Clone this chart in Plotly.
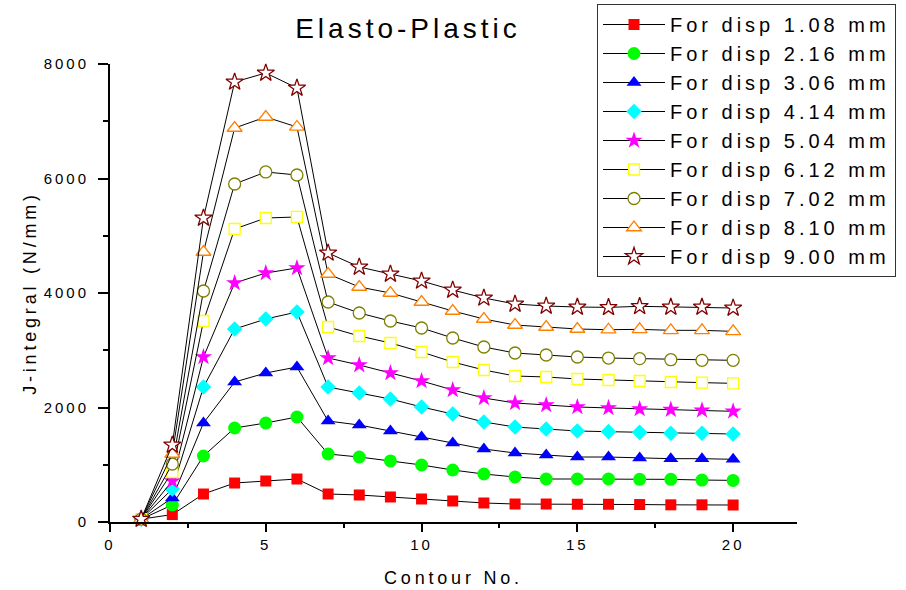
import plotly.graph_objects as go

contour = list(range(1, 21))

series_names = ["For disp 1.08 mm", "For disp 2.16 mm", "For disp 3.06 mm",
                "For disp 4.14 mm", "For disp 5.04 mm", "For disp 6.12 mm",
                "For disp 7.02 mm", "For disp 8.10 mm", "For disp 9.00 mm"]

j_108 = [50, 130, 489, 681, 716, 751, 489, 472, 437, 402, 367, 332, 314, 314, 310, 310, 305, 300, 300, 297]
j_216 = [50, 297, 1153, 1642, 1729, 1834, 1188, 1135, 1066, 996, 908, 838, 786, 751, 751, 751, 745, 745, 733, 727]
j_306 = [50, 419, 1729, 2445, 2603, 2707, 1764, 1694, 1589, 1485, 1380, 1275, 1205, 1170, 1135, 1135, 1118, 1106, 1106, 1095]
j_414 = [50, 576, 2358, 3371, 3546, 3668, 2358, 2253, 2148, 2009, 1886, 1747, 1659, 1624, 1589, 1578, 1566, 1549, 1549, 1537]
j_504 = [50, 716, 2882, 4175, 4349, 4437, 2865, 2742, 2603, 2463, 2306, 2166, 2079, 2044, 2009, 1992, 1974, 1962, 1951, 1933]
j_612 = [50, 873, 3511, 5118, 5310, 5328, 3406, 3249, 3127, 2969, 2795, 2655, 2550, 2533, 2498, 2480, 2463, 2445, 2434, 2422]
j_702 = [50, 1013, 4035, 5904, 6114, 6061, 3843, 3651, 3511, 3389, 3214, 3057, 2952, 2917, 2882, 2864, 2853, 2835, 2824, 2824]
j_810 = [50, 1188, 4716, 6882, 7074, 6900, 4332, 4105, 4000, 3843, 3686, 3546, 3441, 3406, 3371, 3359, 3365, 3348, 3348, 3330]
j_900 = [50, 1345, 5310, 7686, 7843, 7581, 4699, 4454, 4332, 4210, 4052, 3913, 3808, 3773, 3755, 3749, 3767, 3755, 3755, 3738]

all_series = [j_108, j_216, j_306, j_414, j_504, j_612, j_702, j_810, j_900]

x_tick_vals = [0, 5, 10, 15, 20]
y_tick_vals = [0, 2000, 4000, 6000, 8000]

styles = [
    dict(symbol="square", size=11, color="#FF0000", line=dict(width=0)),
    dict(symbol="circle", size=13, color="#00FF00", line=dict(width=0)),
    dict(symbol="triangle-up", size=13, color="#0000FF", line=dict(width=0)),
    dict(symbol="diamond", size=12, color="#00FFFF", line=dict(width=0)),
    dict(symbol="star", size=13, color="#FF00FF", line=dict(width=0)),
    dict(symbol="square", size=11, color="white", line=dict(width=1.3, color="#FFFF00")),
    dict(symbol="circle", size=12, color="white", line=dict(width=1.3, color="#808000")),
    dict(symbol="triangle-up", size=13, color="white", line=dict(width=1.3, color="#FF8000")),
    dict(symbol="star", size=13, color="white", line=dict(width=1.3, color="#800000")),
]

FONT = "Arial, Liberation Sans, sans-serif"
W, H = 906, 590
# plot area in pixels: left, right, top, bottom
PX0, PX1, PY0, PY1 = 110, 797, 64, 522


def spaced(text, px):
    return f'<span style="letter-spacing:{px}px">{text}</span>'


fig = go.Figure()
for name, vals, st in zip(series_names, all_series, styles):
    fig.add_trace(go.Scatter(
        x=contour, y=vals, mode="lines+markers", name=spaced(name, 4),
        line=dict(color="black", width=1),
        marker=st, cliponaxis=False,
    ))

fig.update_layout(
    width=W, height=H,
    margin=dict(l=0, r=0, t=0, b=0, pad=0),
    paper_bgcolor="white", plot_bgcolor="white",
    font=dict(family=FONT, color="black"),
    title=dict(text=spaced("Elasto-Plastic", 4), x=408 / W, xref="container", xanchor="center",
               y=1 - 28 / H, yref="container", yanchor="middle",
               font=dict(size=28, family=FONT, color="black")),
    showlegend=True,
    legend=dict(xref="paper", yref="paper", x=597 / W, y=1 - 4 / H,
                xanchor="left", yanchor="top",
                bgcolor="white", bordercolor="#333333", borderwidth=1,
                font=dict(size=20, family=FONT, color="black"),
                itemwidth=62, tracegroupgap=0),
    xaxis=dict(domain=[PX0 / W, PX1 / W], range=[0, 22.05], showgrid=False, zeroline=False,
               showline=True, linecolor="black", linewidth=2,
               tickmode="array", tickvals=x_tick_vals,
               ticktext=[spaced(str(v), 3) for v in x_tick_vals],
               ticks="outside", ticklen=8, tickwidth=1.5, tickcolor="black",
               tickfont=dict(size=15, family=FONT),
               minor=dict(dtick=2.5, tick0=0, ticks="outside", ticklen=4, tickwidth=1.5, tickcolor="black", showgrid=False),
               title=dict(text=spaced("Contour No.", 3.8), font=dict(size=18, family=FONT), standoff=19),
               automargin=False),
    yaxis=dict(domain=[1 - PY1 / H, 1 - PY0 / H], range=[0, 8000], showgrid=False, zeroline=False,
               showline=True, linecolor="black", linewidth=2,
               tickmode="array", tickvals=y_tick_vals,
               ticktext=[spaced(str(v), 3) for v in y_tick_vals],
               ticks="outside", ticklen=10, tickwidth=1.5, tickcolor="black",
               tickfont=dict(size=15, family=FONT), ticklabelstandoff=6,
               minor=dict(dtick=1000, tick0=0, ticks="outside", ticklen=5, tickwidth=1.5, tickcolor="black", showgrid=False),
               title=dict(text=spaced("J-integral (N/mm)", 3.8), font=dict(size=18, family=FONT), standoff=2),
               automargin=False),
)

fig.write_html("out.html")
